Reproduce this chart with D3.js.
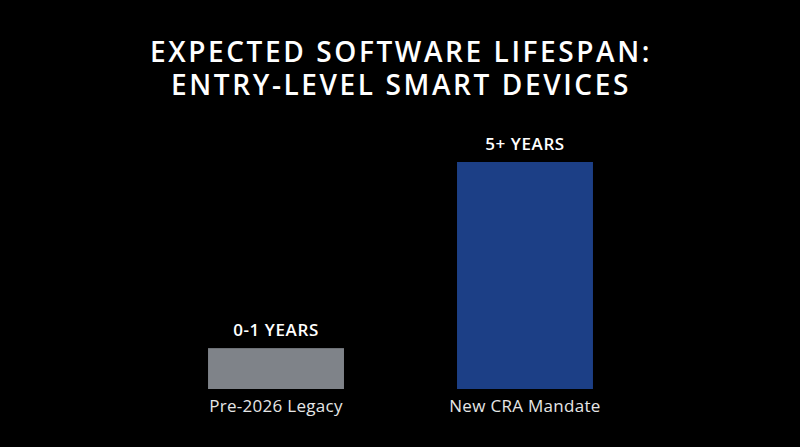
<!DOCTYPE html>
<html>
<head>
<meta charset="utf-8">
<script src="https://cdn.jsdelivr.net/npm/d3@7"></script>
<style>
  html, body { margin: 0; padding: 0; background: #000; }
  svg { display: block; }
</style>
</head>
<body>
<svg id="chart" width="800" height="447"></svg>
<script>
// chart data
var titleLines = ["EXPECTED SOFTWARE LIFESPAN:", "ENTRY-LEVEL SMART DEVICES"];
var categories = ["Pre-2026 Legacy", "New CRA Mandate"];
var values = [0.9, 5];
var valueLabels = ["0-1 YEARS", "5+ YEARS"];
var barColors = ["#7f8389", "#1c3f86"];

var svg = d3.select("#chart");
var width = 800, height = 447;

svg.append("rect").attr("width", width).attr("height", height).attr("fill", "#000");

// title
svg.append("g").selectAll("text")
  .data(titleLines)
  .enter().append("text")
  .attr("x", width / 2 + 1)
  .attr("y", function(d, i) { return 62 + i * 33; })
  .attr("text-anchor", "middle")
  .attr("fill", "#fff")
  .attr("font-family", "'Open Sans', sans-serif")
  .attr("font-weight", 600)
  .attr("font-size", 28)
  .attr("letter-spacing", 2.6)
  .text(function(d) { return d; });

var x = d3.scaleBand()
  .domain(categories)
  .range([95, 706])
  .padding(0.454);

var y = d3.scaleLinear()
  .domain([0, 5])
  .range([389, 162]);

var rows = categories.map(function(c, i) {
  return { name: c, value: values[i], label: valueLabels[i], color: barColors[i] };
});

var bars = svg.append("g").selectAll("g")
  .data(rows)
  .enter().append("g");

bars.append("rect")
  .attr("x", function(d) { return x(d.name); })
  .attr("y", function(d) { return y(d.value); })
  .attr("width", x.bandwidth())
  .attr("height", function(d) { return y(0) - y(d.value); })
  .attr("fill", function(d) { return d.color; });

bars.append("text")
  .attr("x", function(d) { return x(d.name) + x.bandwidth() / 2; })
  .attr("y", function(d) { return y(d.value) - 12; })
  .attr("text-anchor", "middle")
  .attr("fill", "#fff")
  .attr("font-family", "'Open Sans', sans-serif")
  .attr("font-weight", 600)
  .attr("font-size", 17)
  .attr("letter-spacing", 0.6)
  .text(function(d) { return d.label; });

// category labels under the bars
bars.append("text")
  .attr("x", function(d) { return x(d.name) + x.bandwidth() / 2; })
  .attr("y", y(0) + 23)
  .attr("text-anchor", "middle")
  .attr("fill", "#e6e6e6")
  .attr("font-family", "'Open Sans', sans-serif")
  .attr("font-size", 17)
  .attr("letter-spacing", 0.3)
  .text(function(d) { return d.name; });
</script>
</body>
</html>
